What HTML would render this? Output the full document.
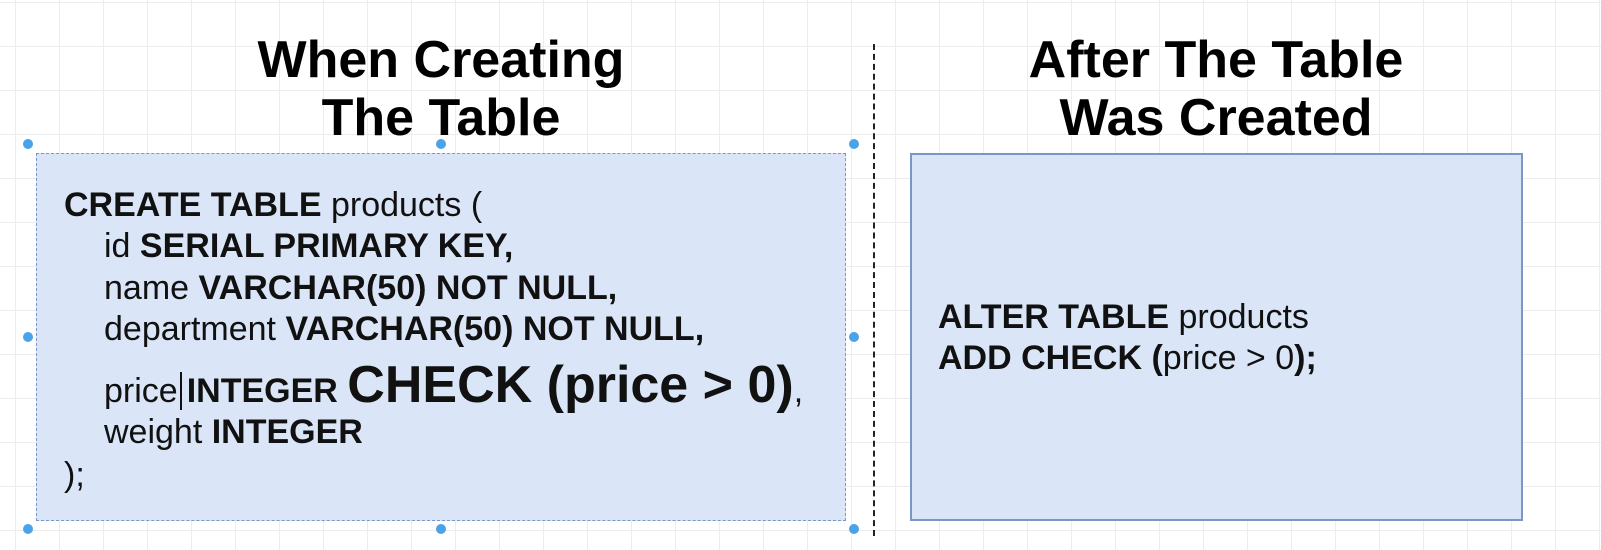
<!DOCTYPE html>
<html><head><style>
body{margin:0;width:1601px;height:550px;overflow:hidden;background:#fff;
background-image:linear-gradient(#ececec 1px,transparent 1px),linear-gradient(90deg,#ececec 1px,transparent 1px);
background-size:44px 44px;background-position:15px 2px;font-family:"Liberation Sans",sans-serif;position:relative}
.t{position:absolute;font-weight:bold;font-size:52px;text-align:center;line-height:58px;color:#000}
.box{position:absolute;background:#dae6f8;border:2px solid #7b97c7;box-sizing:border-box}
.l{position:absolute;font-size:34px;line-height:39px;white-space:nowrap;color:#111}
b{font-weight:bold}
.dot{position:absolute;width:10px;height:10px;border-radius:50%;background:#4aa3e8}
</style></head><body>
<div class="t" style="left:141px;top:31px;width:600px">When Creating<br>The Table</div>
<div class="t" style="left:916px;top:31px;width:600px">After The Table<br>Was Created</div>
<div style="position:absolute;left:873px;top:44px;height:492px;border-left:2px dashed #222"></div>
<div class="box" style="left:36px;top:153px;width:810px;height:368px;border-style:dashed;border-width:1px"></div>
<div class="box" style="left:910px;top:153px;width:613px;height:368px"></div>
<div class="dot" style="left:23px;top:139px"></div><div class="dot" style="left:436px;top:139px"></div><div class="dot" style="left:849px;top:139px"></div>
<div class="dot" style="left:23px;top:332px"></div><div class="dot" style="left:849px;top:332px"></div>
<div class="dot" style="left:23px;top:524px"></div><div class="dot" style="left:436px;top:524px"></div><div class="dot" style="left:849px;top:524px"></div>
<div class="l" style="left:64px;top:186px"><b>CREATE TABLE</b> products (</div>
<div class="l" style="left:104px;top:227px">id <b>SERIAL PRIMARY KEY,</b></div>
<div class="l" style="left:104px;top:269px">name <b>VARCHAR(50) NOT NULL,</b></div>
<div class="l" style="left:104px;top:310px">department <b>VARCHAR(50) NOT NULL,</b></div>
<div class="l" style="left:104px;top:355px;line-height:60px">price<span style="border-left:2px solid #111;margin-left:2px;margin-right:5px"></span><b>INTEGER</b> <b style="font-size:52px">CHECK (price &gt; 0)</b>,</div>
<div class="l" style="left:104px;top:413px">weight <b>INTEGER</b></div>
<div class="l" style="left:64px;top:456px">);</div>
<div class="l" style="left:938px;top:298px"><b>ALTER TABLE</b> products</div>
<div class="l" style="left:938px;top:339px"><b>ADD CHECK (</b>price &gt; 0<b>);</b></div>
</body></html>
